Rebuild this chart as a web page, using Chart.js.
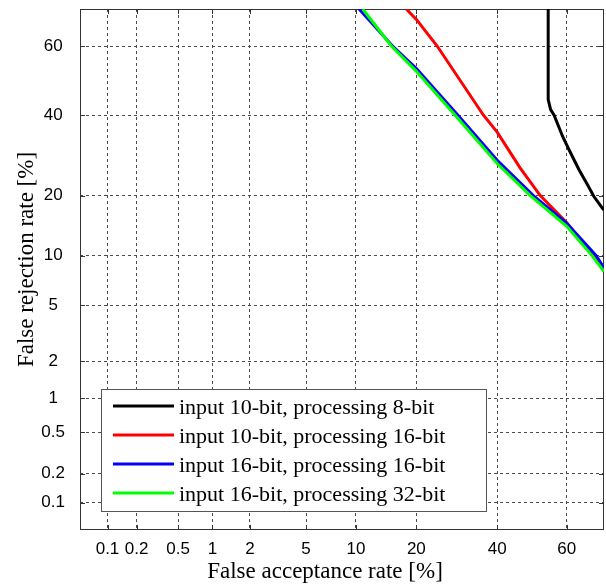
<!DOCTYPE html>
<html>
<head>
<meta charset="utf-8">
<script src="https://cdn.jsdelivr.net/npm/chart.js@4/dist/chart.umd.min.js"></script>
<style>
  html, body { margin: 0; padding: 0; background: #ffffff; }
  canvas { display: block; }
</style>
</head>
<body>
<canvas id="c" width="606" height="585"></canvas>
<script>
// ---------- data (percent values) ----------
const tickValues = [0.1, 0.2, 0.5, 1, 2, 5, 10, 20, 40, 60];
const tickLabels = ['0.1', '0.2', '0.5', '1', '2', '5', '10', '20', '40', '60'];
const axisMinPct = 0.05;
const axisMaxPct = 70;

const seriesLabels = [
  'input 10-bit, processing 8-bit',
  'input 10-bit, processing 16-bit',
  'input 16-bit, processing 16-bit',
  'input 16-bit, processing 32-bit'
];
const seriesColors = ['#000000', '#ff0000', '#0000ff', '#00ff00'];

// series 1: input 10-bit, processing 8-bit
const far8  = [54.7, 54.7, 55.4, 56.4, 58.8, 60.6, 63.4, 65.7, 67.4, 69.6, 70];
const frr8  = [70,   44.5, 41.6, 40,   34.2, 30.7, 25.7, 22.3, 19.8, 17.5, 17.2];
// series 2: input 10-bit, processing 16-bit
const far10_16 = [18.0, 20,   24.5, 36.2, 40,   46.5, 52.4, 60,   67.2, 70];
const frr10_16 = [70,   67.3, 60,   40,   35.3, 26.2, 20,   14.9, 10,   8.6];
// series 3: input 16-bit, processing 16-bit
const far16_16 = [10.4, 15.5, 20,   29.5, 40,   50.4, 60,   68.0, 70];
const frr16_16 = [70,   60,   53.5, 40,   28.0, 20,   14.8, 10,   8.5];
// series 4: input 16-bit, processing 32-bit
const far16_32 = [10.9, 15.3, 20,   28.8, 40,   49.5, 60,   66.9, 70];
const frr16_32 = [70,   60,   52.7, 40,   27.2, 20,   14.3, 10,   8.1];

// ---------- normal deviate (probit) transform for the DET axes ----------
function probit(p) {
  const a = [-3.969683028665376e+01, 2.209460984245205e+02, -2.759285104469687e+02, 1.383577518672690e+02, -3.066479806614716e+01, 2.506628277459239e+00];
  const b = [-5.447609879822406e+01, 1.615858368580409e+02, -1.556989798598866e+02, 6.680131188771972e+01, -1.328068155288572e+01];
  const c = [-7.784894002430293e-03, -3.223964580411365e-01, -2.400758277161838e+00, -2.549732539343734e+00, 4.374664141464968e+00, 2.938163982698783e+00];
  const d = [7.784695709041462e-03, 3.224671290700398e-01, 2.445134137142996e+00, 3.754408661907416e+00];
  const pl = 0.02425, ph = 1 - pl;
  let q, r;
  if (p < pl) {
    q = Math.sqrt(-2 * Math.log(p));
    return (((((c[0]*q+c[1])*q+c[2])*q+c[3])*q+c[4])*q+c[5]) / ((((d[0]*q+d[1])*q+d[2])*q+d[3])*q+1);
  }
  if (p <= ph) {
    q = p - 0.5; r = q * q;
    return (((((a[0]*r+a[1])*r+a[2])*r+a[3])*r+a[4])*r+a[5])*q / (((((b[0]*r+b[1])*r+b[2])*r+b[3])*r+b[4])*r+1);
  }
  q = Math.sqrt(-2 * Math.log(1 - p));
  return -(((((c[0]*q+c[1])*q+c[2])*q+c[3])*q+c[4])*q+c[5]) / ((((d[0]*q+d[1])*q+d[2])*q+d[3])*q+1);
}
const pz = v => probit(v / 100);

const seriesFar = [far8, far10_16, far16_16, far16_32];
const seriesFrr = [frr8, frr10_16, frr16_16, frr16_32];

const datasets = seriesLabels.map((label, i) => ({
  label: label,
  data: seriesFar[i].map((f, k) => ({ x: pz(f), y: pz(seriesFrr[i][k]) })),
  borderColor: seriesColors[i],
  backgroundColor: seriesColors[i],
  borderWidth: 3,
  pointRadius: 0,
  showLine: true,
  tension: 0,
  fill: false,
  order: seriesLabels.length - 1 - i
}));

const GRID = '#4a4a4a';
const SERIF = '"Liberation Serif", "Times New Roman", serif';
const SANS = '"Liberation Sans", Arial, sans-serif';

function probitTicks(scale) {
  scale.ticks = tickValues.map(v => ({ value: pz(v) }));
}

const frame = {
  id: 'frame',
  beforeDatasetsDraw(chart) {
    const { ctx, chartArea: a } = chart;
    ctx.save();
    ctx.strokeStyle = '#333';
    ctx.lineWidth = 1;
    ctx.setLineDash([]);
    const xs = chart.scales.x, ys = chart.scales.y;
    ctx.beginPath();
    tickValues.forEach(v => {
      const px = Math.round(xs.getPixelForValue(pz(v))) + 0.5;
      const py = Math.round(ys.getPixelForValue(pz(v))) + 0.5;
      ctx.moveTo(px, a.bottom); ctx.lineTo(px, a.bottom - 5);
      ctx.moveTo(px, a.top); ctx.lineTo(px, a.top + 5);
      ctx.moveTo(a.left, py); ctx.lineTo(a.left + 5, py);
      ctx.moveTo(a.right, py); ctx.lineTo(a.right - 5, py);
    });
    ctx.stroke();
    ctx.strokeRect(a.left + 0.5, a.top + 0.5, a.right - a.left - 1, a.bottom - a.top - 1);
    ctx.restore();
  },
  afterDraw(chart) {
    const { ctx, chartArea: a } = chart;
    ctx.save();
    ctx.fillStyle = '#000';
    ctx.font = '23px ' + SERIF;
    ctx.textAlign = 'center';
    ctx.textBaseline = 'middle';
    ctx.fillText('False acceptance rate [%]', (a.left + a.right) / 2 - 17, a.bottom + 42);
    ctx.translate(27, (a.top + a.bottom) / 2 - 10);
    ctx.rotate(-Math.PI / 2);
    ctx.fillText('False rejection rate [%]', 0, 0);
    ctx.restore();

    ctx.save();
    const bx = a.left + 21, by = a.bottom - 141, bw = 385, bh = 122;
    ctx.fillStyle = '#ffffff';
    ctx.fillRect(bx, by, bw, bh);
    ctx.strokeStyle = '#555';
    ctx.lineWidth = 1;
    ctx.strokeRect(bx + 0.5, by + 0.5, bw, bh);
    ctx.font = '22px ' + SERIF;
    ctx.textAlign = 'left';
    ctx.textBaseline = 'alphabetic';
    seriesLabels.forEach((lab, i) => {
      const yy = by + 17 + i * 29;
      ctx.strokeStyle = seriesColors[i];
      ctx.lineWidth = 3;
      ctx.beginPath();
      ctx.moveTo(bx + 12, yy);
      ctx.lineTo(bx + 73, yy);
      ctx.stroke();
      ctx.fillStyle = '#000';
      ctx.fillText(lab, bx + 78, yy + 8);
    });
    ctx.restore();
  }
};

new Chart(document.getElementById('c'), {
  type: 'scatter',
  data: { datasets: datasets },
  options: {
    responsive: false,
    animation: false,
    layout: { padding: { top: 9, right: 2, left: 0, bottom: 0 } },
    plugins: { legend: { display: false }, tooltip: { enabled: false } },
    scales: {
      x: {
        type: 'linear',
        min: pz(axisMinPct),
        max: pz(axisMaxPct),
        afterBuildTicks: probitTicks,
        afterFit: s => { s.height = 55; s.paddingLeft = 0; s.paddingRight = 0; },
        grid: { color: GRID, lineWidth: 1, drawTicks: false },
        border: { display: false, dash: [3, 3] },
        ticks: {
          autoSkip: false, maxRotation: 0, minRotation: 0, padding: 9,
          color: '#000', font: { family: SANS, size: 17 },
          callback: (v, i) => tickLabels[i]
        },
        title: { display: false }
      },
      y: {
        type: 'linear',
        min: pz(axisMinPct),
        max: pz(axisMaxPct),
        afterBuildTicks: probitTicks,
        afterFit: s => { s.width = 80; s.paddingTop = 0; s.paddingBottom = 0; },
        grid: { color: GRID, lineWidth: 1, drawTicks: false },
        border: { display: false, dash: [3, 3] },
        ticks: {
          autoSkip: false, padding: 15, crossAlign: 'center',
          color: '#000', font: { family: SANS, size: 17 },
          callback: (v, i) => tickLabels[i]
        },
        title: { display: false }
      }
    }
  },
  plugins: [frame]
});
</script>
</body>
</html>
